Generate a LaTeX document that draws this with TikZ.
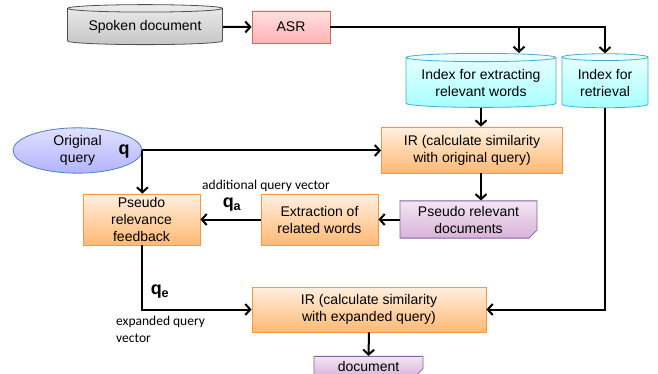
\documentclass[tikz,border=0pt]{standalone}
\usepackage{fontspec}
\setmainfont{Liberation Sans}
\newfontfamily\calibri{Carlito}
\usepackage{tikz}
\usetikzlibrary{shapes.geometric}
\usetikzlibrary{shapes.misc}
\usetikzlibrary{arrows.meta}

\definecolor{grayline}{HTML}{505050}
\definecolor{asrline}{HTML}{D06A68}
\definecolor{cyanline}{HTML}{4BACC6}
\definecolor{orangeline}{HTML}{F79646}
\definecolor{purpleline}{HTML}{8064A2}
\definecolor{blueline}{HTML}{4F81BD}

\tikzset{
  boxtext/.style={font=\fontsize{14}{17}\selectfont, align=center, inner sep=1pt, line width=0.8pt},
  store/.style={boxtext, cylinder, shape border rotate=90},
  graystore/.style={store, draw=grayline, top color=gray!15, bottom color=gray!45},
  cyanstore/.style={store, draw=cyanline, top color=cyan!8, bottom color=cyan!35},
  asrbox/.style={boxtext, rectangle, draw=asrline, top color=red!12, bottom color=red!30},
  procbox/.style={boxtext, rectangle, draw=orangeline, top color=orange!12, bottom color=orange!55},
  docbox/.style={boxtext, chamfered rectangle, chamfered rectangle corners=south east,
    chamfered rectangle xsep=4pt, chamfered rectangle ysep=4pt,
    draw=purpleline, top color=violet!10, bottom color=violet!30},
  querynode/.style={boxtext, ellipse, draw=blueline, top color=blue!12, bottom color=blue!30},
  flow/.style={line width=2pt, -{Straight Barb[length=5pt,width=11pt,line width=2pt]}},
  vecname/.style={font=\fontsize{18}{18}\selectfont\bfseries, inner sep=0pt},
  vecnote/.style={font=\calibri\fontsize{13.5}{17}\selectfont, inner sep=0pt, align=left}
}

\begin{document}
\begin{tikzpicture}[x=1pt,y=-1pt]
  \useasboundingbox (0,0) rectangle (658,374);

  % stores
  \node[graystore, aspect=0.065, minimum width=155pt, minimum height=40pt] (spoken) at (145,27) {Spoken document};
  \node[cyanstore, aspect=0.068, minimum width=150pt, minimum height=54pt] (idxwords) at (481,83) {Index for extracting\\relevant words};
  \node[cyanstore, aspect=0.12, minimum width=86pt, minimum height=54pt] (idxret) at (605,83) {Index for\\retrieval};

  % processes
  \node[asrbox, minimum width=78pt, minimum height=32pt] (asr) at (291,27) {ASR};
  \node[procbox, minimum width=181pt, minimum height=46pt] (irorig) at (472,150) {IR (calculate similarity\\with original query)};
  \node[procbox, minimum width=117pt, minimum height=51pt] (extract) at (319.5,219.5) {Extraction of\\related words};
  \node[procbox, minimum width=117pt, minimum height=51pt] (prf) at (141.5,219.5) {Pseudo\\relevance\\feedback};
  \node[procbox, minimum width=234pt, minimum height=45pt] (irexp) at (369,309.5) {IR (calculate similarity\\with expanded query)};

  % documents and query
  \node[docbox, minimum width=137pt, minimum height=35pt] (pseudodocs) at (468.5,219.5) {Pseudo relevant\\documents};
  \node[docbox, minimum width=109pt, minimum height=19pt] (result) at (368.5,366.5) {document};
  \node[querynode, minimum width=129pt, minimum height=45pt] (origq) at (77.5,150.5) {Original\\query};

  % vector labels
  \node[vecname] (lblq) at (124,152) {q};
  \node[vecname] (lblqa) at (232,205) {q\textsubscript{a}};
  \node[vecname] (lblqe) at (160,292) {q\textsubscript{e}};
  \node[vecnote] (noteadd) at (266,186) {additional query vector};
  \node[vecnote, anchor=north west] (noteexp) at (116,316) {expanded query\\vector};

  % connectors
  \draw[flow] (spoken.east) -- (asr.west);
  \draw[flow] (asr.east) -| (idxret.north);
  \draw[flow] (asr.east) -| ([xshift=38pt]idxwords.north);
  \draw[flow] (idxwords.south) -- (idxwords.south |- irorig.north);
  \draw[flow] (idxwords.south |- irorig.south) -- (idxwords.south |- pseudodocs.north);
  \draw[flow] (pseudodocs.west) -- (extract.east);
  \draw[flow] (extract.west) -- (prf.east);
  \draw[flow] (origq.east) -- (origq.east -| irorig.west);
  \draw[flow] (origq.east) -- (origq.east |- prf.north);
  \draw[flow] (prf.south) |- (irexp.west);
  \draw[flow] (idxret.south) |- (irexp.east);
  \draw[flow] (irexp.south) -- (result.north);
\end{tikzpicture}
\end{document}
